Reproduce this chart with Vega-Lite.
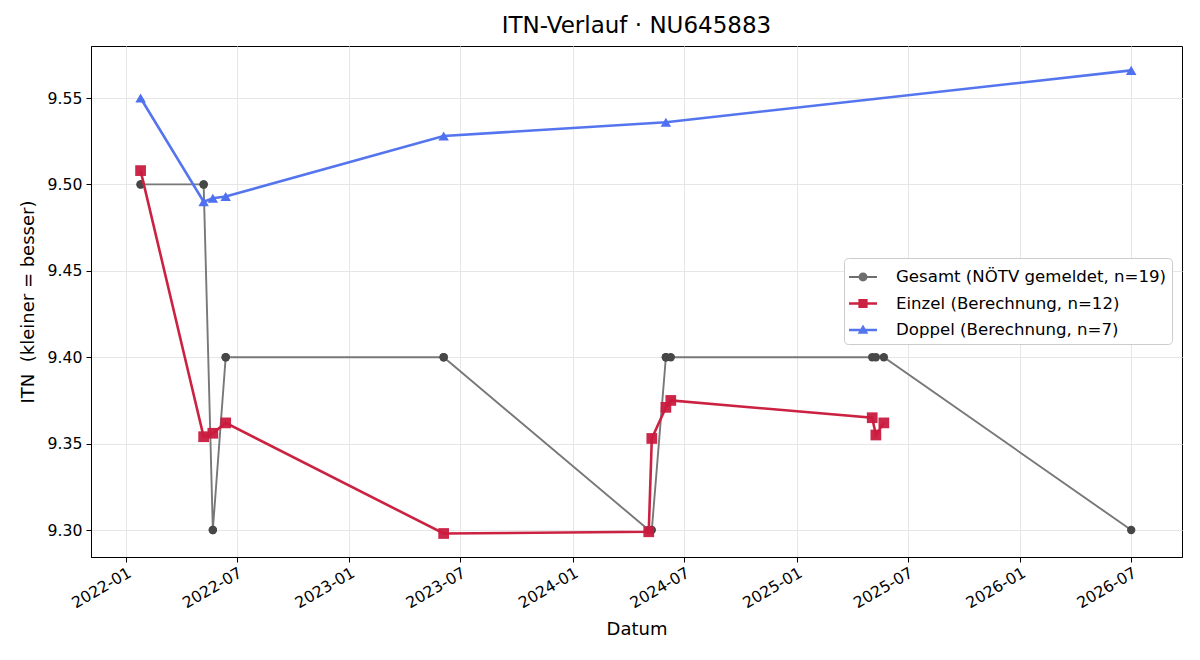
{
  "$schema": "https://vega.github.io/schema/vega-lite/v6.json",
  "width": 1091,
  "height": 511,
  "autosize": {"type": "none"},
  "padding": {"left": 91, "top": 46, "right": 18, "bottom": 103},
  "background": "white",
  "title": {"text": "ITN-Verlauf · NU645883", "fontSize": 23, "font": "DejaVu Sans", "fontWeight": "normal", "color": "black", "offset": 8},
  "config": {
    "view": {"stroke": "black", "strokeWidth": 1},
    "axis": {
      "labelFont": "DejaVu Sans", "labelFontSize": 15.7, "labelColor": "black",
      "titleFont": "DejaVu Sans", "titleFontSize": 18, "titleFontWeight": "normal", "titleColor": "black",
      "tickColor": "black", "tickSize": 5, "domainColor": "black", "gridColor": "#e6e6e6", "gridWidth": 1
    }
  },
  "data": {"values": [
    {"series": "Gesamt (NÖTV gemeldet, n=19)", "date": "2022-01-25", "itn": 9.50},
    {"series": "Gesamt (NÖTV gemeldet, n=19)", "date": "2022-01-25", "itn": 9.50},
    {"series": "Gesamt (NÖTV gemeldet, n=19)", "date": "2022-05-08", "itn": 9.50},
    {"series": "Gesamt (NÖTV gemeldet, n=19)", "date": "2022-05-08", "itn": 9.50},
    {"series": "Gesamt (NÖTV gemeldet, n=19)", "date": "2022-05-23", "itn": 9.30},
    {"series": "Gesamt (NÖTV gemeldet, n=19)", "date": "2022-05-23", "itn": 9.30},
    {"series": "Gesamt (NÖTV gemeldet, n=19)", "date": "2022-06-13", "itn": 9.40},
    {"series": "Gesamt (NÖTV gemeldet, n=19)", "date": "2022-06-13", "itn": 9.40},
    {"series": "Gesamt (NÖTV gemeldet, n=19)", "date": "2023-06-04", "itn": 9.40},
    {"series": "Gesamt (NÖTV gemeldet, n=19)", "date": "2023-06-04", "itn": 9.40},
    {"series": "Gesamt (NÖTV gemeldet, n=19)", "date": "2024-05-04", "itn": 9.30},
    {"series": "Gesamt (NÖTV gemeldet, n=19)", "date": "2024-05-09", "itn": 9.30},
    {"series": "Gesamt (NÖTV gemeldet, n=19)", "date": "2024-06-01", "itn": 9.40},
    {"series": "Gesamt (NÖTV gemeldet, n=19)", "date": "2024-06-01", "itn": 9.40},
    {"series": "Gesamt (NÖTV gemeldet, n=19)", "date": "2024-06-09", "itn": 9.40},
    {"series": "Gesamt (NÖTV gemeldet, n=19)", "date": "2025-05-04", "itn": 9.40},
    {"series": "Gesamt (NÖTV gemeldet, n=19)", "date": "2025-05-10", "itn": 9.40},
    {"series": "Gesamt (NÖTV gemeldet, n=19)", "date": "2025-05-23", "itn": 9.40},
    {"series": "Gesamt (NÖTV gemeldet, n=19)", "date": "2026-07-01", "itn": 9.30},
    {"series": "Einzel (Berechnung, n=12)", "date": "2022-01-25", "itn": 9.508},
    {"series": "Einzel (Berechnung, n=12)", "date": "2022-05-08", "itn": 9.354},
    {"series": "Einzel (Berechnung, n=12)", "date": "2022-05-23", "itn": 9.356},
    {"series": "Einzel (Berechnung, n=12)", "date": "2022-06-13", "itn": 9.362},
    {"series": "Einzel (Berechnung, n=12)", "date": "2023-06-04", "itn": 9.298},
    {"series": "Einzel (Berechnung, n=12)", "date": "2024-05-04", "itn": 9.299},
    {"series": "Einzel (Berechnung, n=12)", "date": "2024-05-09", "itn": 9.353},
    {"series": "Einzel (Berechnung, n=12)", "date": "2024-06-01", "itn": 9.371},
    {"series": "Einzel (Berechnung, n=12)", "date": "2024-06-09", "itn": 9.375},
    {"series": "Einzel (Berechnung, n=12)", "date": "2025-05-04", "itn": 9.365},
    {"series": "Einzel (Berechnung, n=12)", "date": "2025-05-10", "itn": 9.355},
    {"series": "Einzel (Berechnung, n=12)", "date": "2025-05-23", "itn": 9.362},
    {"series": "Doppel (Berechnung, n=7)", "date": "2022-01-25", "itn": 9.550},
    {"series": "Doppel (Berechnung, n=7)", "date": "2022-05-08", "itn": 9.490},
    {"series": "Doppel (Berechnung, n=7)", "date": "2022-05-23", "itn": 9.492},
    {"series": "Doppel (Berechnung, n=7)", "date": "2022-06-13", "itn": 9.493},
    {"series": "Doppel (Berechnung, n=7)", "date": "2023-06-04", "itn": 9.528},
    {"series": "Doppel (Berechnung, n=7)", "date": "2024-06-01", "itn": 9.536},
    {"series": "Doppel (Berechnung, n=7)", "date": "2026-07-01", "itn": 9.566}
  ]},
  "encoding": {
    "x": {
      "field": "date", "type": "temporal", "title": "Datum",
      "scale": {"type": "utc", "domain": [{"year": 2021, "month": 11, "date": 5, "utc": true}, {"year": 2026, "month": 9, "date": 22, "utc": true}]},
      "axis": {
        "labelExpr": "utcFormat(datum.value, '%Y-%m')", "labelAngle": -30, "labelAlign": "right", "labelBaseline": "top", "labelPadding": 3, "titlePadding": 10,
        "values": [
          {"year": 2022, "month": 1, "date": 1, "utc": true},
          {"year": 2022, "month": 7, "date": 1, "utc": true},
          {"year": 2023, "month": 1, "date": 1, "utc": true},
          {"year": 2023, "month": 7, "date": 1, "utc": true},
          {"year": 2024, "month": 1, "date": 1, "utc": true},
          {"year": 2024, "month": 7, "date": 1, "utc": true},
          {"year": 2025, "month": 1, "date": 1, "utc": true},
          {"year": 2025, "month": 7, "date": 1, "utc": true},
          {"year": 2026, "month": 1, "date": 1, "utc": true},
          {"year": 2026, "month": 7, "date": 1, "utc": true}
        ]
      }
    },
    "y": {
      "field": "itn", "type": "quantitative", "title": "ITN\u00a0 (kleiner = besser)",
      "scale": {"domain": [9.2844, 9.5801], "nice": false, "zero": false},
      "axis": {"values": [9.30, 9.35, 9.40, 9.45, 9.50, 9.55], "format": ".2f", "labelPadding": 4, "titlePadding": 10}
    }
  },
  "layer": [
    {"transform": [{"filter": "datum.series === 'Gesamt (NÖTV gemeldet, n=19)'"}], "mark": {"type": "line", "color": "#787878", "strokeWidth": 1.9}, "encoding": {}},
    {"transform": [{"filter": "datum.series === 'Gesamt (NÖTV gemeldet, n=19)'"}], "mark": {"type": "point", "shape": "circle", "filled": true, "color": "#474747", "opacity": 1, "size": 70}, "encoding": {}},
    {"transform": [{"filter": "datum.series === 'Einzel (Berechnung, n=12)'"}], "mark": {"type": "line", "color": "#cc2242", "strokeWidth": 2.6}, "encoding": {}},
    {"transform": [{"filter": "datum.series === 'Einzel (Berechnung, n=12)'"}], "mark": {"type": "point", "shape": "square", "filled": true, "color": "#c91a3e", "opacity": 0.95, "size": 115}, "encoding": {}},
    {"transform": [{"filter": "datum.series === 'Doppel (Berechnung, n=7)'"}], "mark": {"type": "line", "color": "#5575ef", "strokeWidth": 2.6}, "encoding": {}},
    {"transform": [{"filter": "datum.series === 'Doppel (Berechnung, n=7)'"}], "mark": {"type": "point", "shape": "triangle-up", "filled": true, "color": "#4f70ef", "opacity": 1, "size": 110}, "encoding": {}},
    {
      "mark": {"type": "point", "filled": true, "opacity": 0},
      "encoding": {
        "color": {"field": "series", "type": "nominal",
          "scale": {"domain": ["Gesamt (NÖTV gemeldet, n=19)", "Einzel (Berechnung, n=12)", "Doppel (Berechnung, n=7)"], "range": ["#6e6e6e", "#cc2242", "#5575ef"]}},
        "shape": {"field": "series", "type": "nominal",
          "scale": {"domain": ["Gesamt (NÖTV gemeldet, n=19)", "Einzel (Berechnung, n=12)", "Doppel (Berechnung, n=7)"],
            "range": [
              "M-1,-0.065L1,-0.065L1,0.065L-1,0.065ZM-0.32,0A0.32,0.32,0,1,1,0.32,0A0.32,0.32,0,1,1,-0.32,0Z",
              "M-1,-0.085L1,-0.085L1,0.085L-1,0.085ZM-0.33,-0.33L0.33,-0.33L0.33,0.33L-0.33,0.33Z",
              "M-1,-0.085L1,-0.085L1,0.085L-1,0.085ZM0,-0.4L0.38,0.26L-0.38,0.26Z"
            ]},
          "legend": {
            "title": null, "orient": "none", "legendX": 753, "legendY": 212,
            "labelFont": "DejaVu Sans", "labelFontSize": 16.6, "labelColor": "black", "labelLimit": 400,
            "symbolSize": 784, "symbolStrokeWidth": 0, "symbolOpacity": 1, "labelOffset": 19, "rowPadding": 3.5,
            "padding": 5, "fillColor": "white", "strokeColor": "#cccccc", "cornerRadius": 4
          }
        }
      }
    }
  ]
}
